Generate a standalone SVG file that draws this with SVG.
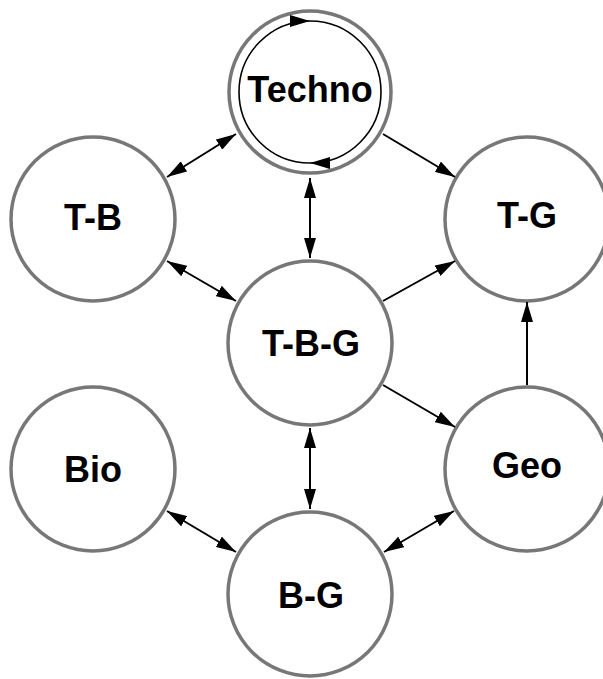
<svg xmlns="http://www.w3.org/2000/svg" width="603" height="679" viewBox="0 0 603 679">
<style>
.node{fill:#fff;stroke:#777;stroke-width:3.5}
.lbl{font-family:"Liberation Sans",Arial,sans-serif;font-weight:bold;font-size:36px;fill:#000;text-anchor:middle}
.edge{fill:none;stroke:#000;stroke-width:2;marker-end:url(#ah)}
.both{marker-start:url(#ah)}
.loop{fill:none;stroke:#000;stroke-width:1.6;marker-end:url(#ah2)}
</style>
<defs>
<marker id="ah" viewBox="0 0 20 12" refX="20" refY="6" markerWidth="20" markerHeight="12" markerUnits="userSpaceOnUse" orient="auto-start-reverse">
<path d="M0,0 L20,6 L0,12 z" fill="#000"/>
</marker>
<marker id="ah2" viewBox="0 0 20 12" refX="20" refY="6" markerWidth="20" markerHeight="12" markerUnits="userSpaceOnUse" orient="auto">
<path d="M0,0 L20,6 L0,12 z" fill="#000"/>
</marker>
</defs>
<rect width="603" height="679" fill="#fff"/>
<g id="techno">
<circle class="node" cx="310" cy="92" r="81"/>
<path class="loop" d="M310,21 A71,71 0 0 1 310,163"/>
<path class="loop" d="M310,163 A71,71 0 0 1 310,21"/>
<text class="lbl" x="310" y="102">Techno</text>
</g>
<g id="tb">
<circle class="node" cx="93" cy="219" r="82"/>
<text class="lbl" x="93" y="230">T-B</text>
</g>
<g id="tg">
<circle class="node" cx="527" cy="219" r="82"/>
<text class="lbl" x="527" y="228">T-G</text>
</g>
<g id="tbg">
<circle class="node" cx="310" cy="343" r="82"/>
<text class="lbl" x="311" y="356">T-B-G</text>
</g>
<g id="bio">
<circle class="node" cx="93" cy="469" r="82"/>
<text class="lbl" x="93" y="482">Bio</text>
</g>
<g id="geo">
<circle class="node" cx="527" cy="469" r="82"/>
<text class="lbl" x="527" y="478">Geo</text>
</g>
<g id="bg">
<circle class="node" cx="310" cy="594" r="82"/>
<text class="lbl" x="311" y="608">B-G</text>
</g>
<g id="connectors">
<path class="edge both" d="M167,177 L236,134"/>
<path class="edge" d="M383,134 L455,177"/>
<path class="edge both" d="M310,178 L310,258"/>
<path class="edge both" d="M167,261 L236,301"/>
<path class="edge" d="M383,301 L455,261"/>
<path class="edge" d="M383,385 L455,427"/>
<path class="edge" d="M527,385 L527,302"/>
<path class="edge both" d="M310,428 L310,509"/>
<path class="edge both" d="M167,511 L236,552"/>
<path class="edge both" d="M454,511 L384,552"/>
</g>
</svg>
